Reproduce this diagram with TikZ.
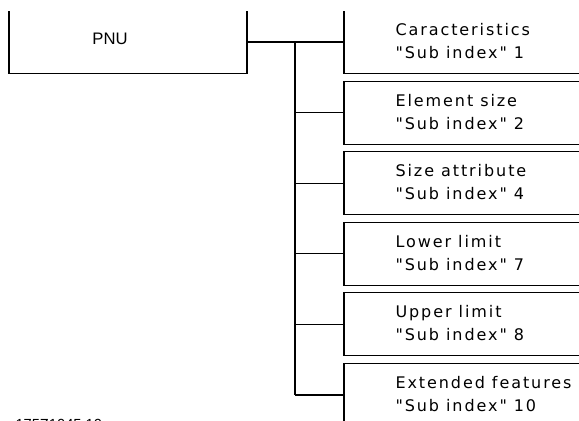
\documentclass[tikz,border=0pt]{standalone}
\usepackage{fontspec}
\usepackage{tikz}
\newfontfamily\boxfont[LetterSpace=12]{DejaVu Sans}
\newfontfamily\pnufont{Liberation Sans}

\begin{document}
\begin{tikzpicture}[x=0.75pt, y=-0.75pt,
    line width=0.8pt,
    mainbox/.style={draw, rectangle, inner sep=0pt, minimum width=178.5pt, minimum height=47.25pt},
    subbox/.style={draw, rectangle, inner sep=0pt, minimum width=192pt, minimum height=47.25pt},
    boxtext/.style={anchor=west, align=left, inner sep=0pt, font=\boxfont\fontsize{12pt}{17.25pt}\selectfont}]
        \useasboundingbox (0,0) rectangle (579,421);
        % everything above y=11 is cut away, as in the scan
        \clip (-10,11.5) rectangle (620,440);

        % PNU box on the left
        \node[mainbox] (pnu) at (128,42) {};
        \node[inner sep=0pt, font=\pnufont\fontsize{12.5pt}{15pt}\selectfont] (pnulbl) at (110,38.5) {PNU};

        % Sub index boxes on the right
        \foreach \i/\ta/\tb in {1/Caracteristics/1, 2/Element size/2, 3/Size attribute/4,
                                4/Lower limit/7, 5/Upper limit/8, 6/Extended features/10} {
            \node[subbox] (b\i) at (472, {42 + 70.6*(\i-1)}) {};
            \node[boxtext] (t\i) at (395, {41 + 70.6*(\i-1)}) {\ta\\"Sub index" \tb};
        }

        % Tree lines
        \coordinate (tk) at (295,0);
        \draw (pnu.east) -- (b1.west);
        \draw (tk |- b1.west) -- (tk |- b6.west);
        \foreach \i in {2,...,6}
            \draw (tk |- b\i.west) -- (b\i.west);

        % drawing number, cut off at the bottom edge
        \node[anchor=north west, inner sep=0pt, font=\pnufont\fontsize{11pt}{13pt}\selectfont] (dwgno) at (15,418.5) {175Z1045.10};
\end{tikzpicture}
\end{document}
